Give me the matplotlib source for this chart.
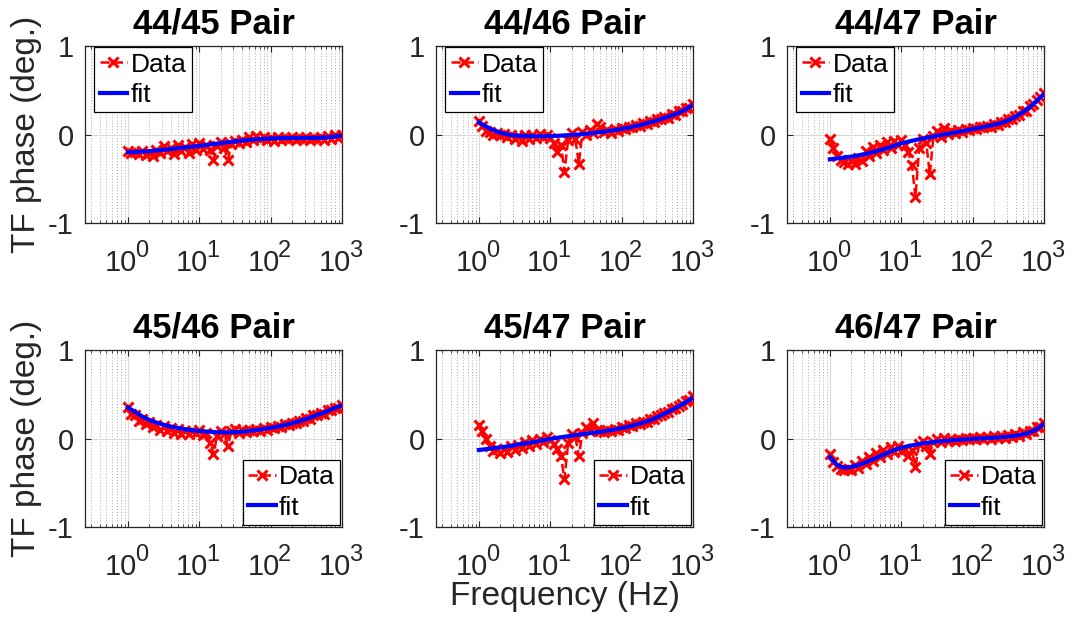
import matplotlib
matplotlib.use("Agg")
import matplotlib.pyplot as plt
from matplotlib.ticker import LogLocator, NullFormatter

plt.rcParams['font.family'] = ['Liberation Sans', 'DejaVu Sans']

# measurement frequencies (Hz), 20 per decade
freq = [1.00, 1.12, 1.26, 1.41, 1.58, 1.78, 2.00, 2.24, 2.51, 2.82,
        3.16, 3.55, 3.98, 4.47, 5.01, 5.62, 6.31, 7.08, 7.94, 8.91,
        10.0, 11.2, 12.6, 14.1, 15.8, 17.8, 20.0, 22.4, 25.1, 28.2,
        31.6, 35.5, 39.8, 44.7, 50.1, 56.2, 63.1, 70.8, 79.4, 89.1,
        100, 112, 126, 141, 158, 178, 200, 224, 251, 282,
        316, 355, 398, 447, 501, 562, 631, 708, 794, 891, 1000]
# fitted model is evaluated on every other frequency
fit_freq = freq[::2]

pairs = ['44/45 Pair', '44/46 Pair', '44/47 Pair',
         '45/46 Pair', '45/47 Pair', '46/47 Pair']

decades = [1, 10, 100, 1000]
exponents = ['0', '1', '2', '3']

# measured TF phase (deg.)
data_4445 = [-0.19, -0.21, -0.20, -0.22, -0.19, -0.23, -0.21, -0.24, -0.18, -0.21,
             -0.13, -0.19, -0.15, -0.22, -0.12, -0.19, -0.14, -0.21, -0.11, -0.17,
             -0.10, -0.16, -0.12, -0.18, -0.29, -0.13, -0.09, -0.15, -0.29, -0.11,
             -0.07, -0.10, -0.06, -0.09, -0.03, -0.06, -0.02, -0.05, -0.03, -0.06,
             -0.04, -0.07, -0.03, -0.06, -0.04, -0.05, -0.03, -0.06, -0.04, -0.05,
             -0.03, -0.06, -0.04, -0.05, -0.03, -0.06, -0.02, -0.05, -0.01, -0.04, 0.00]
data_4446 = [0.15, 0.10, 0.04, 0.03, 0.00, 0.02, -0.01, 0.01, -0.03, 0.00,
             -0.05, -0.02, -0.07, -0.01, -0.05, 0.00, -0.04, 0.01, -0.03, 0.00,
             -0.04, -0.10, -0.20, -0.12, -0.42, -0.06, 0.02, -0.05, -0.33, 0.03,
             -0.01, 0.05, 0.02, 0.12, 0.08, 0.03, 0.05, 0.02, 0.06, 0.04,
             0.07, 0.06, 0.09, 0.08, 0.11, 0.10, 0.13, 0.12, 0.15, 0.14,
             0.17, 0.17, 0.20, 0.19, 0.23, 0.22, 0.26, 0.26, 0.30, 0.30, 0.35]
data_4447 = [-0.05, -0.15, -0.24, -0.29, -0.31, -0.33, -0.30, -0.33, -0.27, -0.30,
             -0.19, -0.24, -0.14, -0.21, -0.12, -0.18, -0.09, -0.15, -0.07, -0.12,
             -0.06, -0.12, -0.20, -0.35, -0.71, -0.15, -0.05, -0.10, -0.45, -0.02,
             0.04, -0.03, 0.07, 0.01, 0.04, 0.02, 0.05, 0.03, 0.06, 0.05,
             0.07, 0.06, 0.09, 0.08, 0.10, 0.09, 0.12, 0.11, 0.14, 0.14,
             0.17, 0.18, 0.21, 0.22, 0.26, 0.27, 0.32, 0.34, 0.39, 0.42, 0.47]
data_4546 = [0.36, 0.28, 0.26, 0.20, 0.22, 0.16, 0.19, 0.13, 0.15, 0.10,
             0.14, 0.09, 0.12, 0.06, 0.11, 0.05, 0.09, 0.05, 0.09, 0.06,
             0.10, 0.04, 0.06, -0.05, -0.17, 0.03, 0.09, 0.05, -0.08, 0.08,
             0.11, 0.06, 0.10, 0.07, 0.10, 0.08, 0.11, 0.09, 0.12, 0.10,
             0.13, 0.12, 0.14, 0.13, 0.16, 0.15, 0.18, 0.17, 0.20, 0.20,
             0.23, 0.22, 0.26, 0.26, 0.29, 0.28, 0.32, 0.32, 0.35, 0.34, 0.38]
data_4547 = [0.15, 0.08, 0.00, -0.08, -0.14, -0.12, -0.16, -0.12, -0.15, -0.09,
             -0.13, -0.07, -0.11, -0.04, -0.09, -0.02, -0.06, 0.00, -0.04, 0.02,
             -0.02, -0.06, -0.12, -0.20, -0.46, -0.05, 0.05, 0.02, -0.20, 0.06,
             0.13, 0.08, 0.17, 0.10, 0.09, 0.07, 0.10, 0.09, 0.11, 0.10,
             0.13, 0.12, 0.15, 0.14, 0.17, 0.16, 0.19, 0.19, 0.22, 0.22,
             0.25, 0.26, 0.29, 0.30, 0.33, 0.34, 0.37, 0.39, 0.42, 0.44, 0.48]
data_4647 = [-0.18, -0.26, -0.31, -0.35, -0.36, -0.34, -0.36, -0.30, -0.33, -0.25,
             -0.29, -0.21, -0.25, -0.16, -0.21, -0.13, -0.18, -0.10, -0.15, -0.08,
             -0.14, -0.12, -0.20, -0.13, -0.32, -0.06, -0.03, -0.08, -0.17, -0.04,
             0.00, -0.04, 0.01, -0.03, -0.01, -0.03, 0.00, -0.02, 0.01, -0.01,
             0.01, -0.01, 0.02, 0.00, 0.02, 0.00, 0.03, 0.01, 0.03, 0.01,
             0.04, 0.02, 0.05, 0.03, 0.07, 0.05, 0.09, 0.08, 0.13, 0.13, 0.18]

# fitted TF phase (deg.)
fit_4445 = [-0.200, -0.197, -0.193, -0.188, -0.181, -0.173, -0.164, -0.155, -0.146, -0.137,
            -0.128, -0.118, -0.108, -0.098, -0.088, -0.078, -0.069, -0.061, -0.054, -0.049,
            -0.045, -0.042, -0.040, -0.039, -0.039, -0.039, -0.038, -0.036, -0.032, -0.024, -0.012]
fit_4446 = [0.136, 0.090, 0.050, 0.020, 0.000, -0.010, -0.015, -0.018, -0.020, -0.020,
            -0.018, -0.015, -0.010, -0.005, 0.000, 0.008, 0.017, 0.027, 0.038, 0.050,
            0.063, 0.078, 0.095, 0.115, 0.137, 0.160, 0.187, 0.215, 0.245, 0.285, 0.335]
fit_4447 = [-0.280, -0.270, -0.260, -0.250, -0.235, -0.220, -0.200, -0.178, -0.155, -0.128,
            -0.100, -0.080, -0.062, -0.045, -0.030, -0.015, 0.000, 0.015, 0.030, 0.045,
            0.062, 0.077, 0.092, 0.110, 0.130, 0.160, 0.200, 0.250, 0.310, 0.380, 0.460]
fit_4546 = [0.350, 0.300, 0.250, 0.210, 0.180, 0.155, 0.135, 0.120, 0.105, 0.093,
            0.085, 0.078, 0.073, 0.070, 0.070, 0.072, 0.077, 0.085, 0.095, 0.107,
            0.120, 0.135, 0.152, 0.172, 0.195, 0.220, 0.250, 0.280, 0.310, 0.345, 0.375]
fit_4547 = [-0.130, -0.120, -0.110, -0.100, -0.090, -0.075, -0.060, -0.050, -0.035, -0.020,
            -0.005, 0.008, 0.020, 0.033, 0.044, 0.055, 0.065, 0.075, 0.088, 0.102,
            0.118, 0.135, 0.155, 0.180, 0.205, 0.240, 0.280, 0.320, 0.365, 0.410, 0.460]
fit_4647 = [-0.210, -0.300, -0.330, -0.320, -0.300, -0.270, -0.235, -0.200, -0.165, -0.130,
            -0.105, -0.085, -0.070, -0.055, -0.045, -0.035, -0.027, -0.020, -0.014, -0.009,
            -0.005, 0.000, 0.004, 0.009, 0.015, 0.022, 0.032, 0.046, 0.068, 0.105, 0.165]

data_sets = [data_4445, data_4446, data_4447, data_4546, data_4547, data_4647]
fit_sets = [fit_4445, fit_4446, fit_4447, fit_4546, fit_4547, fit_4647]

W, H = 1072, 623
fig = plt.figure(figsize=(W / 100, H / 100), dpi=100)

lefts = [85, 436, 787]
tops = [46, 350]
ax_w, ax_h = 257, 177
edge = '#262626'
txt = '#262626'

axes = []
for k in range(6):
    r, c = divmod(k, 3)
    ax = fig.add_axes([lefts[c] / W, 1 - (tops[r] + ax_h) / H, ax_w / W, ax_h / H])
    axes.append(ax)

    ax.semilogx(freq, data_sets[k], color='red', linestyle='--', linewidth=1.8,
                marker='x', markersize=7, markeredgewidth=2.2, label='Data', zorder=3)
    ax.semilogx(fit_freq, fit_sets[k], color='blue', linewidth=3, label='fit', zorder=4)

    ax.set_xlim(0.25, 1000)
    ax.set_ylim(-1, 1)
    ax.set_yticks([-1, 0, 1])
    ax.set_yticklabels(['-1', '0', '1'])
    ax.set_xticks(decades)
    ax.set_xticklabels([''] * len(decades))
    ax.xaxis.set_minor_locator(LogLocator(base=10, subs=range(2, 10), numticks=20))
    ax.xaxis.set_minor_formatter(NullFormatter())

    # MATLAB-style decade labels with a large exponent
    for d, e in zip(decades, exponents):
        ax.annotate('10', xy=(d, 0), xycoords=ax.get_xaxis_transform(),
                    xytext=(9, -48), textcoords='offset pixels',
                    ha='right', va='baseline', fontsize=21, color=txt)
        ax.annotate(e, xy=(d, 0), xycoords=ax.get_xaxis_transform(),
                    xytext=(7, -34), textcoords='offset pixels',
                    ha='left', va='baseline', fontsize=17, color=txt)

    ax.grid(True, which='major', color='#d9d9d9', linewidth=0.8, zorder=0)
    ax.grid(True, which='minor', axis='x', color='#ababab', linestyle=(0, (1, 2)),
            linewidth=0.7, zorder=0)
    ax.set_axisbelow(True)

    ax.tick_params(which='both', direction='in', top=True, right=True,
                   color=edge, labelsize=21, labelcolor=txt, pad=8)
    ax.tick_params(which='major', length=4)
    ax.tick_params(which='minor', length=2)
    for s in ax.spines.values():
        s.set_color(edge)
        s.set_linewidth(0.9)

    ax.set_title(pairs[k], fontsize=25, fontweight='bold', pad=9)

    if r == 0:
        leg = ax.legend(loc='upper left', bbox_to_anchor=(8 / ax_w, 1.0),
                        borderaxespad=0.05, fontsize=19, handlelength=1.05,
                        handletextpad=0.12, borderpad=0.2, labelspacing=0.25)
    else:
        leg = ax.legend(loc='lower right', borderaxespad=0.08, fontsize=19,
                        handlelength=1.05, handletextpad=0.12, borderpad=0.2,
                        labelspacing=0.25)
    leg.get_frame().set_edgecolor('black')
    leg.get_frame().set_linewidth(0.9)
    leg.get_frame().set_alpha(1)
    leg.get_frame().set_boxstyle('square', pad=0.0)

    if c == 0:
        fig.text(27 / W, 1 - (tops[r] + ax_h / 2) / H, 'TF phase (deg.)',
                 rotation=90, ha='center', va='center', fontsize=24, color=txt)

fig.text((lefts[1] + ax_w / 2) / W, 1 - 596 / H, 'Frequency (Hz)',
         ha='center', va='center', fontsize=24, color=txt)

fig.savefig('out.png', dpi=100)
